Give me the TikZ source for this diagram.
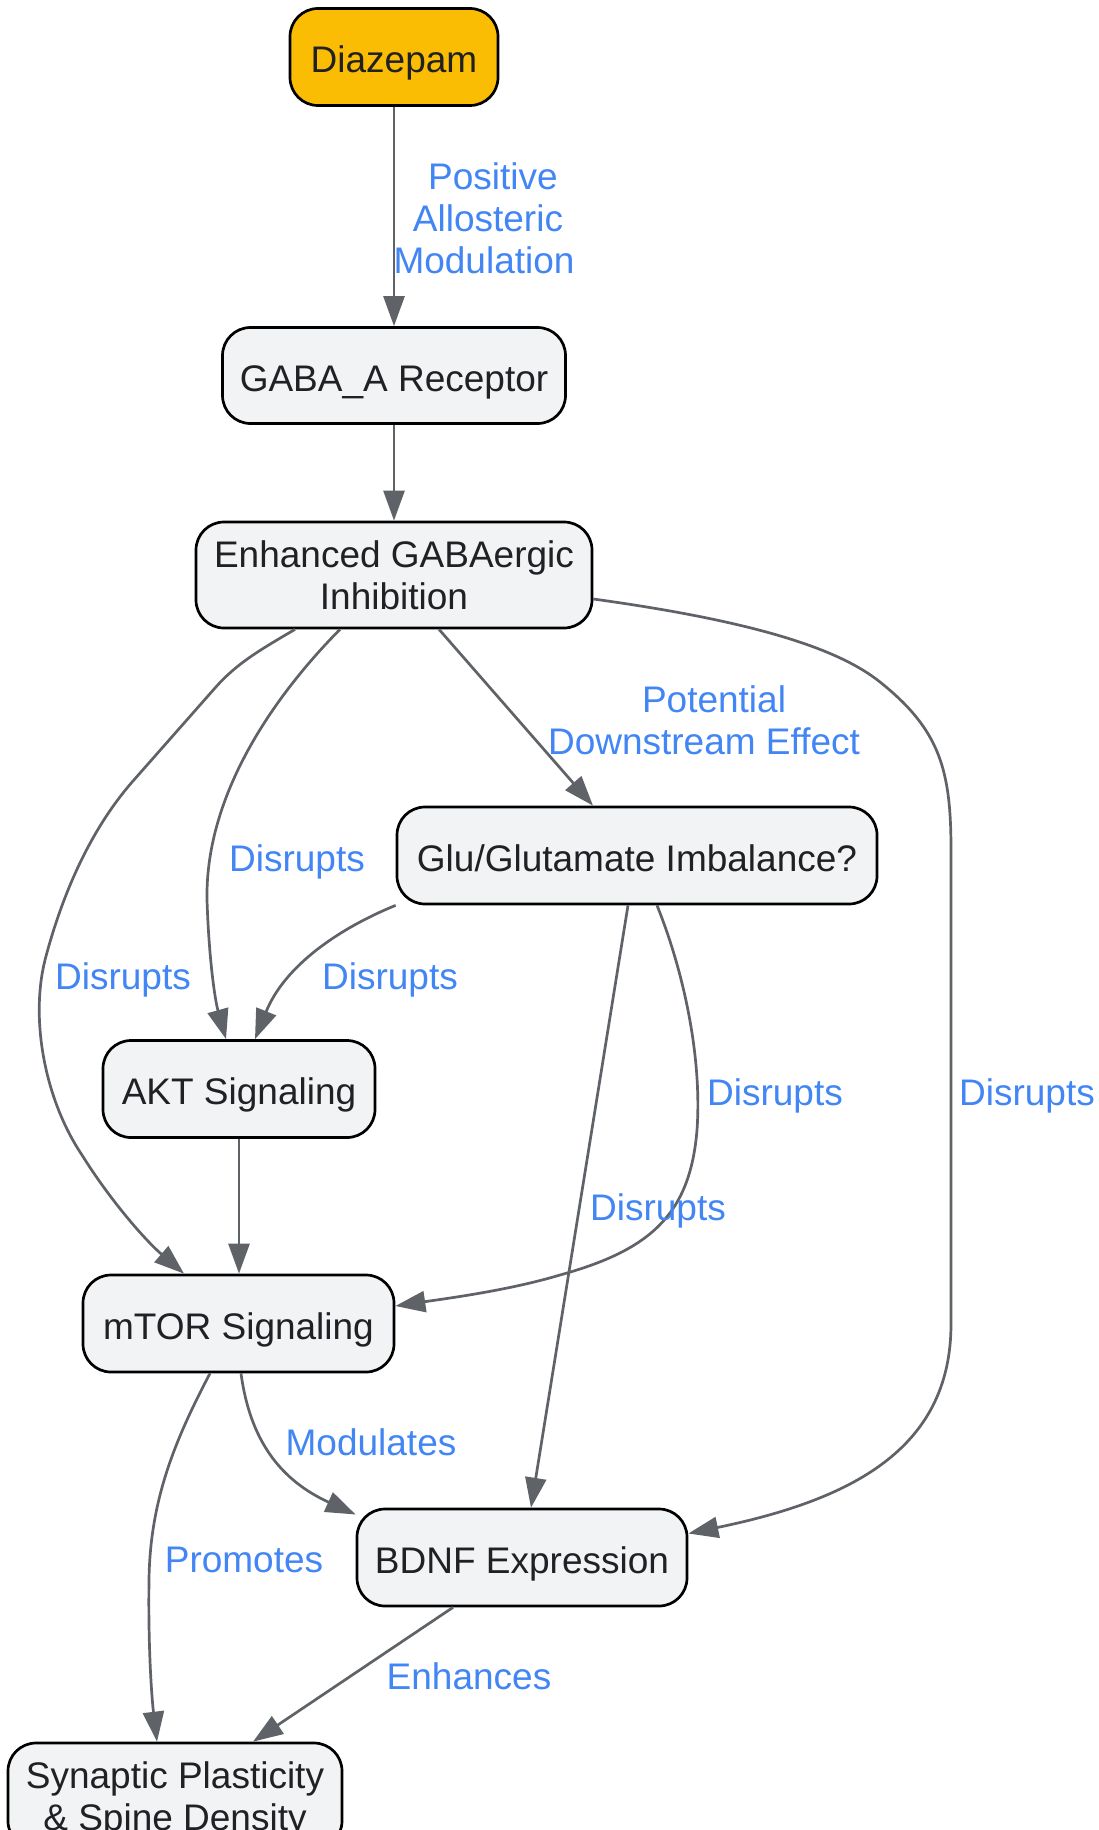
\documentclass[tikz,border=0pt]{standalone}
\usepackage{fontspec}
\setmainfont{Liberation Sans}
\usetikzlibrary{arrows.meta}
\definecolor{edgegray}{HTML}{5F6368}
\definecolor{labelblue}{HTML}{4285F4}
\definecolor{nodefill}{HTML}{F1F3F4}
\definecolor{nodetext}{HTML}{202124}
\definecolor{drugfill}{HTML}{FBBC04}
\begin{document}
\begin{tikzpicture}[x=1pt,y=-1pt,
  box/.style={draw=black, line width=2.7pt, fill=nodefill, rounded corners=28pt, inner sep=0pt,
    text=nodetext, font=\fontsize{37}{42}\selectfont, align=center},
  oneline/.style={text height=31.5pt, text depth=0pt},
  lbl/.style={text=labelblue, font=\fontsize{37}{42}\selectfont, align=center, inner sep=0pt},
  conn/.style={draw=edgegray, line width=2.7pt, -{Triangle[length=30pt,width=21pt]}}
]
\useasboundingbox[fill=white] (0,0) rectangle (1099,1830);

% nodes
\node[box, oneline, fill=drugfill, minimum width=208pt, minimum height=97pt] (dz) at (394,57) {Diazepam};
\node[box, oneline, minimum width=343pt, minimum height=96pt] (gaba) at (394,375.5) {GABA\_A Receptor};
\node[box, minimum width=396pt, minimum height=106pt] (enh) at (394,575) {Enhanced GABAergic\\Inhibition};
\node[box, oneline, minimum width=480pt, minimum height=97pt] (glu) at (637,855.5) {Glu/Glutamate Imbalance?};
\node[box, oneline, minimum width=272pt, minimum height=97pt] (akt) at (239,1089) {AKT Signaling};
\node[box, oneline, minimum width=311pt, minimum height=97pt] (mtor) at (238.5,1323.5) {mTOR Signaling};
\node[box, oneline, minimum width=330pt, minimum height=97pt] (bdnf) at (522,1557.5) {BDNF Expression};
\node[box, minimum width=334pt, minimum height=106pt] (syn) at (175,1796) {Synaptic Plasticity\\\smash{\& Spine Density}};

% connectors
\draw[conn] (dz.south) -- (gaba.north);
\draw[conn] (gaba.south) -- (enh.north);
\draw[conn] ([xshift=45pt]enh.south) -- ([xshift=-44pt]glu.north);
\draw[conn] ([xshift=-54pt]enh.south) .. controls (280,690) and (205,790) .. (207,900)
  .. controls (209,960) and (215,1000) .. ([xshift=-13pt]akt.north);
\draw[conn] ([xshift=-99pt]enh.south) .. controls (260,650) and (237,663) .. (215,688)
  -- (133,781) .. controls (90,830) and (62,895) .. (45,960)
  .. controls (30,1020) and (45,1100) .. (82,1155)
  .. controls (110,1200) and (145,1240) .. ([xshift=-54.5pt]mtor.north);
\draw[conn] ([yshift=-24pt]enh.east) .. controls (760,622) and (840,650) .. (880,682)
  .. controls (940,730) and (951,770) .. (951,850) -- (951,1324)
  .. controls (951,1450) and (850,1500) .. ([yshift=24pt]bdnf.east);
\draw[conn] (glu.south west) .. controls (340,928) and (285,965) .. ([xshift=16pt]akt.north);
\draw[conn] ([xshift=20pt]glu.south) .. controls (685,975) and (702,1060) .. (697,1130)
  .. controls (690,1215) and (650,1250) .. (560,1275)
  .. controls (510,1290) and (450,1298) .. ([yshift=17.5pt]mtor.east);
\draw[conn] ([xshift=-9pt]glu.south) -- ([xshift=9pt]bdnf.north);
\draw[conn] (akt.south) -- (akt.south |- mtor.north);
\draw[conn] ([xshift=2.5pt]mtor.south) .. controls (250,1440) and (280,1480) .. ([yshift=43pt]bdnf.west);
\draw[conn] ([xshift=-28.5pt]mtor.south) .. controls (175,1440) and (150,1500) .. (149,1580)
  .. controls (148,1650) and (152,1700) .. ([xshift=-18pt]syn.north);
\draw[conn] ([xshift=-69pt]bdnf.south) -- ([xshift=78pt]syn.north);

% edge labels
\node[lbl] (l1) at (484,218) {\hspace*{18pt}Positive\\\hspace*{8pt}Allosteric\\Modulation};
\node[lbl] (l2) at (704,720) {\hspace*{20pt}Potential\\Downstream Effect};
\node[lbl] (l3) at (297,862) {Disrupts};
\node[lbl] (l4) at (123,980) {Disrupts};
\node[lbl] (l5) at (390,980) {Disrupts};
\node[lbl] (l6) at (775,1096) {Disrupts};
\node[lbl] (l7) at (1027,1096) {Disrupts};
\node[lbl] (l8) at (658,1211) {Disrupts};
\node[lbl] (l9) at (371,1442) {Modulates};
\node[lbl] (l10) at (244,1560) {Promotes};
\node[lbl] (l11) at (469,1676) {Enhances};
\end{tikzpicture}
\end{document}
